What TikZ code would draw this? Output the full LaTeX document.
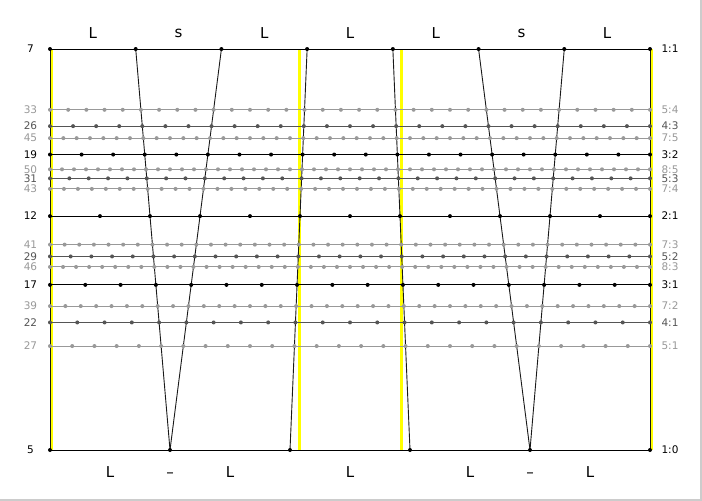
\documentclass[tikz,border=0pt]{standalone}
\usepackage{fontspec}
\setmainfont{DejaVu Sans}
\definecolor{levA}{HTML}{000000}
\definecolor{levB}{HTML}{555555}
\definecolor{levC}{HTML}{999999}
\definecolor{yel}{HTML}{FFFF00}
\definecolor{frame}{HTML}{CCCCCC}
\begin{document}
\begin{tikzpicture}[x=1pt,y=-1pt,
  sidelab/.style={inner sep=0pt, font=\fontsize{10.5}{12}\selectfont},
  steplab/.style={inner sep=0pt, font=\fontsize{15}{18}\selectfont},
  edoline/.style={line width=1pt},
  degline/.style={line width=0.9pt, color=black!90},
  yband/.style={line width=3pt, color=yel}]
\useasboundingbox (0,0) rectangle (702,501);
\fill[white] (0,0) rectangle (702,501);
\draw[line width=2pt, frame] (701,0) -- (701,500) -- (0,500);
% yellow reference lines (1/1, 4/3, 3/2, 2/1)
\foreach \x/\n in {51/a,299/b,401/c,651/d} {
  \coordinate (ya\n) at (\x,49);
  \coordinate (yb\n) at (\x,450);
  \draw[yband] (ya\n) -- (yb\n);
}
% horizontal EDO lines and labels
\foreach \L/\s/\col in {5/1/levC,7/2/levC,8/3/levC,7/3/levC,7/4/levC,8/5/levC,7/5/levC,5/4/levC,
                        4/1/levB,5/2/levB,5/3/levB,4/3/levB,
                        3/1/levA,3/2/levA,2/1/levA,1/0/levA,1/1/levA} {
  \pgfmathtruncatemacro\N{5*\L+2*\s}
  \pgfmathsetmacro\yy{450-2807*(\s/\N)}
  \coordinate (h\N) at (50,\yy);
  \coordinate (k\N) at (650,\yy);
  \draw[edoline, \col] (h\N) -- (k\N);
  \node[sidelab, text=\col] (left\N) at (30.5,\yy) {\N};
  \node[sidelab, text=\col] (right\N) at (670,\yy) {\L:\s};
}
% scale degree lines
\foreach \k/\b in {0/50,1/170,2/170,3/290,4/410,5/530,6/530,7/650} {
  \coordinate (t\k) at ({50+600*(\k/7)},49);
  \coordinate (d\k) at (\b,450);
  \draw[degline] (t\k) -- (d\k);
}
% dots
\foreach \L/\s/\col in {5/1/levC,7/2/levC,8/3/levC,7/3/levC,7/4/levC,8/5/levC,7/5/levC,5/4/levC,
                        4/1/levB,5/2/levB,5/3/levB,4/3/levB,
                        3/1/levA,3/2/levA,2/1/levA,1/0/levA,1/1/levA} {
  \pgfmathtruncatemacro\N{5*\L+2*\s}
  \pgfmathsetmacro\yy{450-2807*(\s/\N)}
  \foreach \j in {0,...,\N} {
    \fill[\col] ({50+600*(\j/\N)},\yy) circle (2);
  }
}
% step labels at top (1:1)
\foreach \k/\t in {0/L,1/s,2/L,3/L,4/L,5/s,6/L} {
  \node[steplab] (top\k) at ({50+600*((\k+0.5)/7)},33) {\t};
}
% step labels at bottom (1:0)
\foreach \x/\n in {110/0,230/2,350/3,470/4,590/6} {
  \node[steplab] (bot\n) at (\x,472) {L};
}
\foreach \x/\n in {170/1,530/5} {
  \node[steplab] (bot\n) at (\x,475) {–};
}
\end{tikzpicture}
\end{document}
